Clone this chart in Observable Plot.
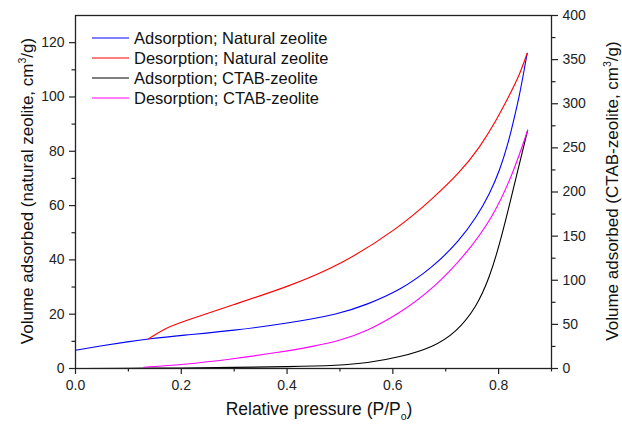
<!DOCTYPE html>
<html>
<head>
<meta charset="utf-8">
<script src="https://cdn.jsdelivr.net/npm/d3@7"></script>
<script src="https://cdn.jsdelivr.net/npm/@observablehq/plot@0.6"></script>
<style>
  body { margin: 0; background: #fff; }
  #wrap { position: relative; width: 622px; height: 425px; font-family: "Liberation Sans", Arial, sans-serif; }
  #legend { position: absolute; left: 92px; top: 28px; font-size: 16.5px; color: #111; }
  #legend .row { display: flex; align-items: center; height: 20px; }
  #legend svg { margin-right: 5px; }
</style>
</head>
<body>
<div id="wrap"></div>
<script>
// Natural zeolite (left axis, cm3/g)
const adsNatX = [0, 0.05, 0.1, 0.138, 0.2, 0.3, 0.4, 0.5, 0.55, 0.613, 0.676, 0.726, 0.758, 0.783, 0.802, 0.818, 0.830, 0.840, 0.847, 0.854];
const adsNatY = [6.7, 8.4, 9.9, 10.9, 12.2, 14.0, 16.6, 20.1, 23.5, 28.7, 37.3, 47.1, 55.7, 64.3, 72.9, 82.8, 92.6, 101.2, 108.5, 116.1];
const desNatX = [0.138, 0.167, 0.2, 0.3, 0.4, 0.5, 0.613, 0.676, 0.726, 0.764, 0.796, 0.821, 0.840, 0.854];
const desNatY = [10.9, 14.6, 17.1, 23.6, 30.0, 37.9, 52.0, 62.7, 72.0, 81.3, 91.5, 100.8, 108.3, 116.1];
// CTAB-zeolite (right axis, cm3/g)
const adsCtabX = [0, 0.1, 0.2, 0.3, 0.4, 0.5, 0.55, 0.613, 0.676, 0.72, 0.758, 0.783, 0.802, 0.821, 0.836, 0.855];
const adsCtabY = [0, 0.3, 0.6, 1.2, 2.0, 3.6, 6, 12.8, 24.1, 41.1, 69.4, 103.3, 141.1, 186.4, 224, 270];
const desCtabX = [0.129, 0.2, 0.3, 0.387, 0.45, 0.5, 0.55, 0.613, 0.676, 0.739, 0.789, 0.827, 0.855];
const desCtabY = [1.5, 4.2, 11, 18.5, 25, 31.7, 42, 62.6, 90.2, 129.8, 171.2, 220.3, 270];

const xTicks = [0, 0.2, 0.4, 0.6, 0.8];
const xMinor = [0.1, 0.3, 0.5, 0.7, 0.9];
const yLeftTicks = [0, 20, 40, 60, 80, 100, 120];
const yLeftMinor = [10, 30, 50, 70, 90, 110];
const yRightTicks = [0, 50, 100, 150, 200, 250, 300, 350, 400];
const yRightMinor = [25, 75, 125, 175, 225, 275, 325, 375];

const leftMax = 130, rightMax = 400;
const r2l = v => v * leftMax / rightMax;

const series = [
  {name: "Adsorption; Natural zeolite", color: "#0000ff", xs: adsNatX, ys: adsNatY, right: false},
  {name: "Desorption; Natural zeolite", color: "#ff0000", xs: desNatX, ys: desNatY, right: false},
  {name: "Adsorption; CTAB-zeolite", color: "#000000", xs: adsCtabX, ys: adsCtabY, right: true},
  {name: "Desorption; CTAB-zeolite", color: "#ff00ff", xs: desCtabX, ys: desCtabY, right: true}
];

const lineMarks = series.map(s => {
  const data = s.xs.map((x, i) => ({x, y: s.right ? r2l(s.ys[i]) : s.ys[i]}));
  return Plot.line(data, {x: "x", y: "y", stroke: s.color, strokeWidth: 1.1, curve: "basis"});
});

const fmt1 = d3.format(".1f");
const chart = Plot.plot({
  width: 622,
  height: 425,
  marginLeft: 75,
  marginRight: 71,
  marginTop: 15,
  marginBottom: 57,
  style: {fontFamily: "'Liberation Sans', Arial, sans-serif", fontSize: "14px", color: "#222", background: "#fff"},
  x: {domain: [0, 0.9]},
  y: {domain: [0, leftMax]},
  marks: [
    ...lineMarks,
    Plot.frame({stroke: "#222", strokeWidth: 1.3}),
    Plot.axisX(xTicks, {tickSize: 6, tickPadding: 6, tickFormat: fmt1, label: null, strokeWidth: 1.2}),
    Plot.axisX(xMinor, {tickSize: 3.5, tickFormat: () => "", label: null, strokeWidth: 1.2}),
    Plot.axisY(yLeftTicks, {anchor: "left", tickSize: 6, tickPadding: 5, label: null, strokeWidth: 1.2}),
    Plot.axisY(yLeftMinor, {anchor: "left", tickSize: 3.5, tickFormat: () => "", label: null, strokeWidth: 1.2}),
    Plot.axisY(yRightTicks.map(r2l), {anchor: "right", tickSize: 6, tickPadding: 5, tickFormat: d => Math.round(d * rightMax / leftMax), label: null, strokeWidth: 1.2}),
    Plot.axisY(yRightMinor.map(r2l), {anchor: "right", tickSize: 3.5, tickFormat: () => "", label: null, strokeWidth: 1.2})
  ]
});

const svg = d3.select(chart);
const lab = (tx, ty, rot, size) => svg.append("text")
  .attr("transform", `translate(${tx},${ty})` + (rot ? ` rotate(${rot})` : ""))
  .attr("text-anchor", "middle")
  .attr("font-size", size)
  .attr("fill", "#111")
  .attr("font-family", "'Liberation Sans', Arial, sans-serif");

const bl = lab(319, 415, 0, 17.5);
bl.append("tspan").text("Relative pressure (P/P");
bl.append("tspan").attr("font-size", 10.5).attr("dy", 5).text("o");
bl.append("tspan").attr("dy", -5).text(")");

const ll = lab(33, 191, -90, 17);
ll.append("tspan").text("Volume adsorbed (natural zeolite, cm");
ll.append("tspan").attr("font-size", 10.5).attr("dy", -7).text("3");
ll.append("tspan").attr("dy", 7).text("/g)");

const rl = lab(618, 191, -90, 17);
rl.append("tspan").text("Volume adsorbed (CTAB-zeolite, cm");
rl.append("tspan").attr("font-size", 10.5).attr("dy", -7).text("3");
rl.append("tspan").attr("dy", 7).text("/g)");

const wrap = document.getElementById("wrap");
wrap.appendChild(chart);

// Legend overlay
const legend = document.createElement("div");
legend.id = "legend";
series.forEach(s => {
  const row = document.createElement("div");
  row.className = "row";
  row.innerHTML = `<svg width="37" height="4"><line x1="0" y1="2" x2="37" y2="2" stroke="${s.color}" stroke-width="1.1"/></svg><span>${s.name}</span>`;
  legend.appendChild(row);
});
wrap.appendChild(legend);
</script>
</body>
</html>
